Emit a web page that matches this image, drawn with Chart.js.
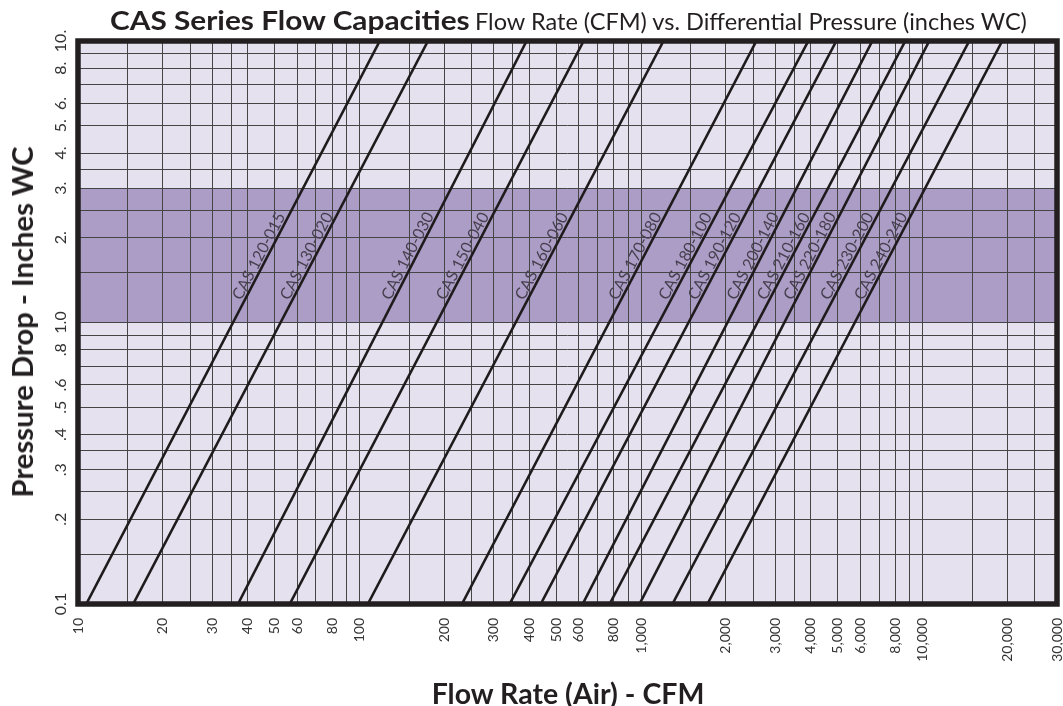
<!DOCTYPE html>
<html>
<head>
<meta charset="utf-8">
<script src="https://cdn.jsdelivr.net/npm/chart.js@4"></script>
<style>
  body { margin: 0; background: #fff; }
  #wrap { position: relative; width: 1063px; height: 706px; font-family: Lato, sans-serif; color: #231f20; }
  .txt { position: absolute; white-space: nowrap; line-height: 1; display: inline-block; }
  #titleMain { left: 110px; top: 6px; font-size: 27px; font-weight: bold; transform-origin: left center; }
  #titleSub { left: 475px; top: 10px; font-size: 23px; transform-origin: left center; }
  #xTitle { left: 568px; top: 693px; font-size: 28px; font-weight: bold; }
  #yTitle { left: 22px; top: 322px; font-size: 28px; font-weight: bold; }
</style>
</head>
<body>
<div id="wrap">
  <canvas id="chart" width="1063" height="706"></canvas>
  <div class="txt" id="titleMain">CAS Series Flow Capacities</div>
  <div class="txt" id="titleSub">Flow Rate (CFM) vs. Differential Pressure (inches WC)</div>
  <div class="txt" id="xTitle">Flow Rate (Air) - CFM</div>
  <div class="txt" id="yTitle">Pressure Drop - Inches WC</div>
</div>
<script>
// model names, drawn along each line
const models = ["CAS 120-015", "CAS 130-020", "CAS 140-030", "CAS 150-040", "CAS 160-060",
    "CAS 170-080", "CAS 180-100", "CAS 190-120", "CAS 200-140", "CAS 210-160",
    "CAS 220-180", "CAS 230-200", "CAS 240-240"];

// CFM read where each line crosses 0.1 in WC and 10 in WC
const pressureEnds = [0.1, 10];
const flowAtLow = [10.7, 15.7, 37.0, 56.5, 107, 231, 341, 440, 620, 773, 987, 1292, 1720];
const flowAtHigh = [118, 175, 392, 625, 1201, 2567, 3926, 4936, 6626, 8677, 10554, 14640, 19170];

// grid lines and tick labels
const xGrid = [10, 15, 20, 25, 30, 35, 40, 50, 60, 70, 80, 90,
    100, 150, 200, 250, 300, 350, 400, 500, 600, 700, 800, 900,
    1000, 1500, 2000, 2500, 3000, 3500, 4000, 5000, 6000, 7000, 8000, 9000,
    10000, 15000, 20000, 25000, 30000];
const xTickValues = [10, 20, 30, 40, 50, 60, 80, 100, 200, 300, 400, 500, 600, 800,
    1000, 2000, 3000, 4000, 5000, 6000, 8000, 10000, 20000, 30000];
const xTickLabels = ["10", "20", "30", "40", "50", "60", "80", "100", "200", "300", "400", "500", "600", "800",
    "1,000", "2,000", "3,000", "4,000", "5,000", "6,000", "8,000", "10,000", "20,000", "30,000"];

const yGrid = [0.1, 0.15, 0.2, 0.25, 0.3, 0.35, 0.4, 0.5, 0.6, 0.7, 0.8, 0.9,
    1, 1.5, 2, 2.5, 3, 3.5, 4, 5, 6, 7, 8, 9, 10];
const yTickValues = [0.1, 0.2, 0.3, 0.4, 0.5, 0.6, 0.8, 1, 2, 3, 4, 5, 6, 8, 10];
const yTickLabels = ["0.1", ".2", ".3", ".4", ".5", ".6", ".8", "1.0", "2.", "3.", "4.", "5.", "6.", "8.", "10."];

// shaded recommended band
const bandLow = 1;
const bandHigh = 3;

// stretch the heading texts to the widths seen in the original
function stretch(id, target, extra) {
    const el = document.getElementById(id);
    const s = target / el.offsetWidth;
    el.style.transform = (extra || "") + " scaleX(" + s.toFixed(3) + ")";
}
stretch("titleMain", 360);
stretch("titleSub", 552);
stretch("xTitle", 273, "translate(-50%, -50%)");
stretch("yTitle", 351, "translate(-50%, -50%) rotate(-90deg)");

const datasets = models.map((name, i) => ({
    label: name,
    data: [{x: flowAtLow[i], y: pressureEnds[0]}, {x: flowAtHigh[i], y: pressureEnds[1]}],
    borderColor: "#1f1b1c",
    borderWidth: 2.6,
    pointRadius: 0,
    showLine: true
}));

const backgroundPlugin = {
    id: "background",
    beforeDraw(chart) {
        const {ctx, chartArea: a, scales: {y}} = chart;
        ctx.save();
        ctx.fillStyle = "#e6e1ee";
        ctx.fillRect(a.left, a.top, a.right - a.left, a.bottom - a.top);
        const top = y.getPixelForValue(bandHigh);
        const bottom = y.getPixelForValue(bandLow);
        ctx.fillStyle = "#ab9dc6";
        ctx.fillRect(a.left, top, a.right - a.left, bottom - top);
        ctx.restore();
    }
};

const overlayPlugin = {
    id: "overlay",
    afterDatasetsDraw(chart) {
        const {ctx, chartArea: a, scales: {y}} = chart;
        ctx.save();
        // labels along the lines
        ctx.fillStyle = "#463f4d";
        ctx.font = "16px Lato, sans-serif";
        ctx.textBaseline = "alphabetic";
        ctx.textAlign = "left";
        const yLabel = y.getPixelForValue(1.18);
        chart.data.datasets.forEach((ds, i) => {
            const pts = chart.getDatasetMeta(i).data;
            const p0 = pts[0], p1 = pts[1];
            const t = (yLabel - p0.y) / (p1.y - p0.y);
            const x = p0.x + t * (p1.x - p0.x);
            const angle = Math.atan2(p1.y - p0.y, p1.x - p0.x);
            ctx.save();
            ctx.translate(x, yLabel);
            ctx.rotate(angle);
            ctx.fillText(ds.label, 0, -2.5);
            ctx.restore();
        });

        // thick frame
        ctx.strokeStyle = "#231f20";
        ctx.lineWidth = 5.5;
        ctx.strokeRect(a.left, a.top, a.right - a.left, a.bottom - a.top);

        // y tick labels, rotated like the x ones
        ctx.fillStyle = "#333";
        ctx.font = "16px Lato, sans-serif";
        ctx.textBaseline = "middle";
        ctx.textAlign = "center";
        yTickValues.forEach((v, i) => {
            ctx.save();
            ctx.translate(61, y.getPixelForValue(v));
            ctx.rotate(-Math.PI / 2);
            ctx.fillText(yTickLabels[i], 0, 0);
            ctx.restore();
        });
        ctx.restore();
    }
};

new Chart(document.getElementById("chart"), {
    type: "scatter",
    data: {datasets: datasets},
    options: {
        responsive: false,
        animation: false,
        devicePixelRatio: 1,
        layout: {padding: {top: 41, right: 6, left: 0, bottom: 0}},
        plugins: {
            legend: {display: false},
            tooltip: {enabled: false}
        },
        scales: {
            x: {
                type: "logarithmic",
                min: 10,
                max: 30000,
                afterBuildTicks: s => { s.ticks = xGrid.map(v => ({value: v})); },
                afterFit: s => { s.height = 102; s.paddingLeft = 0; s.paddingRight = 0; },
                border: {display: false},
                grid: {color: "#454545", lineWidth: 1, drawTicks: false},
                ticks: {
                    autoSkip: false,
                    minRotation: 90,
                    maxRotation: 90,
                    padding: 14,
                    color: "#333",
                    font: {family: "Lato, sans-serif", size: 14},
                    callback: value => {
                        const i = xTickValues.indexOf(value);
                        return i >= 0 ? xTickLabels[i] : "";
                    }
                }
            },
            y: {
                type: "logarithmic",
                min: 0.1,
                max: 10,
                afterBuildTicks: s => { s.ticks = yGrid.map(v => ({value: v})); },
                afterFit: s => { s.width = 78; s.paddingTop = 0; s.paddingBottom = 0; },
                border: {display: false},
                grid: {color: "#454545", lineWidth: 1, drawTicks: false},
                ticks: {display: false}
            }
        }
    },
    plugins: [backgroundPlugin, overlayPlugin]
});
</script>
</body>
</html>
